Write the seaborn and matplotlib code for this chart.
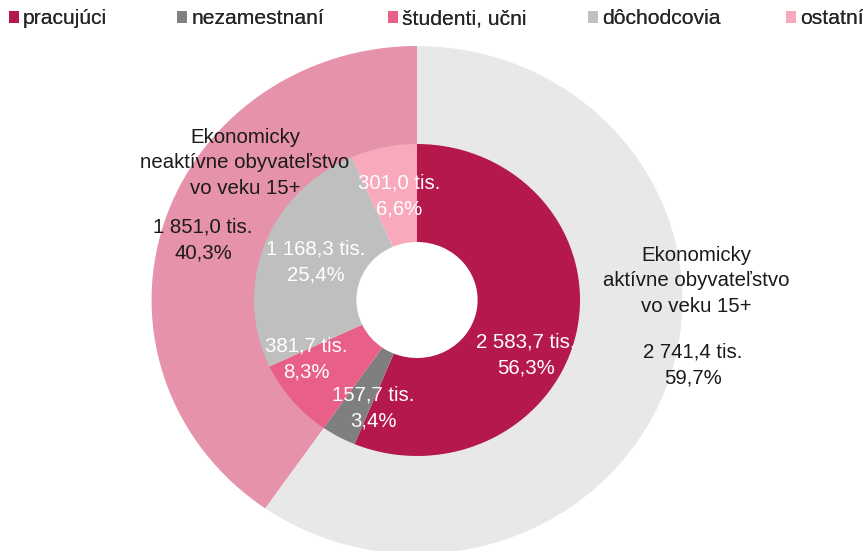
import matplotlib
matplotlib.use("Agg")
import matplotlib.pyplot as plt
import seaborn as sns
from matplotlib.patches import Patch

# %% Data
outer_labels = ["Ekonomicky\naktívne obyvateľstvo\nvo veku 15+",
                "Ekonomicky\nneaktívne obyvateľstvo\nvo veku 15+"]
outer_values = [2741.4, 1851.0]
outer_pct = ["59,7%", "40,3%"]
outer_vals_txt = ["2 741,4 tis.", "1 851,0 tis."]

inner_labels = ["pracujúci", "nezamestnaní", "študenti, učni", "dôchodcovia", "ostatní"]
inner_values = [2583.7, 157.7, 381.7, 1168.3, 301.0]
inner_vals_txt = ["2 583,7 tis.", "157,7 tis.", "381,7 tis.", "1 168,3 tis.", "301,0 tis."]
inner_pct = ["56,3%", "3,4%", "8,3%", "25,4%", "6,6%"]

outer_colors = ["#E8E8E8", "#E592AA"]
inner_colors = ["#B5184B", "#7F7F7F", "#E85F87", "#BFBFBF", "#F8A9BC"]

# %% Style
sns.set_theme(style="white")
plt.rcParams["font.family"] = ["Liberation Sans", "DejaVu Sans"]

W, H = 863, 551
SX = 1.045  # the original chart is slightly stretched horizontally
fig = plt.figure(figsize=(W / 100, H / 100), dpi=100)
ax = fig.add_axes([0, 0, 1, 1])

cx, cy = 417 / SX, H - 300
r_out, r_in, r_hole = 254, 156, 58

ax.pie(outer_values, colors=outer_colors, radius=r_out, center=(cx, cy),
       startangle=90, counterclock=False,
       wedgeprops=dict(width=r_out - r_in + 2, linewidth=0))
ax.pie(inner_values, colors=inner_colors, radius=r_in, center=(cx, cy),
       startangle=90, counterclock=False,
       wedgeprops=dict(width=r_in - r_hole, linewidth=0))

ax.set_xlim(0, W / SX)
ax.set_ylim(0, H)
ax.set_aspect("auto")
ax.axis("off")

# %% Labels (pixel positions measured from reference, y from top)
FS = 14.7
LS = 1.42
inner_pos = [(526, 355), (373, 408), (306, 359), (316, 262), (399, 196)]
for (x, y), v, p in zip(inner_pos, inner_vals_txt, inner_pct):
    ax.text(x / SX, H - y, f"{v}\n{p}", color="white", fontsize=FS,
            ha="center", va="center", linespacing=LS)

title_pos = [(696, 281), (245, 163)]
value_pos = [(693, 365), (203, 240)]
for (x, y), t in zip(title_pos, outer_labels):
    ax.text(x / SX, H - y, t, color="#1a1a1a", fontsize=FS,
            ha="center", va="center", linespacing=LS)
for (x, y), v, p in zip(value_pos, outer_vals_txt, outer_pct):
    ax.text(x / SX, H - y, f"{v}\n{p}", color="#1a1a1a", fontsize=FS,
            ha="center", va="center", linespacing=LS)

# %% Legend (one entry per slot, as in the original)
legend_x = [9, 177, 388, 588, 786]
for x, c, l in zip(legend_x, inner_colors, inner_labels):
    leg = fig.legend(handles=[Patch(facecolor=c, edgecolor="none", label=l)],
                     loc="center left", bbox_to_anchor=(x / W, 1 - 19 / H),
                     frameon=False, fontsize=15.2, handlelength=0.47,
                     handleheight=0.55, handletextpad=0.2,
                     borderpad=0, borderaxespad=0)
    fig.add_artist(leg)

plt.savefig("out.png", dpi=100)
